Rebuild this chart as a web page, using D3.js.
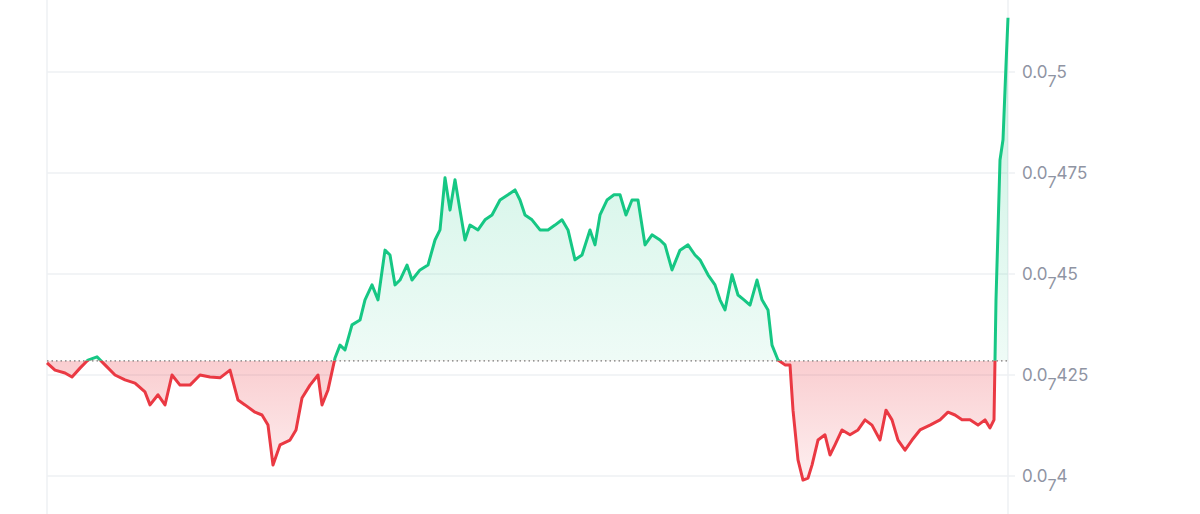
<!DOCTYPE html><html><head><meta charset="utf-8"><script src="https://cdn.jsdelivr.net/npm/d3@7"></script>
<style>body{margin:0;background:#fff}svg{display:block}</style></head><body><svg id="c" width="1200" height="514"></svg>
<script>
const times=[0,8,18,25,33,41,50,58,68,78,88,98,103,111,118,125,133,143,153,163,173,183,191,198,208,215,221,226,233,243,249,255,263,271,275,281,288,293,298,305,313,318,325,331,338,343,348,353,360,365,373,381,388,393,398,403,408,413,418,423,431,438,445,453,461,468,473,478,485,493,501,508,515,521,528,535,543,548,553,560,567,573,579,585,591,598,605,613,618,625,633,641,648,653,661,668,673,678,685,691,697,703,710,715,721,725,731,738,743,746,751,756,761,765,771,778,783,788,795,803,811,818,825,833,839,845,851,858,865,873,883,893,901,908,915,923,931,938,943,947,949,953,956,959,961];
const prices=[.4280,.4262,.4255,.4245,.4267,.4287,.4295,.4275,.4250,.4238,.4230,.4208,.4176,.4201,.4176,.4250,.4225,.4225,.4250,.4245,.4243,.4262,.4188,.4176,.4158,.4151,.4126,.4027,.4077,.4089,.4114,.4193,.4225,.4250,.4176,.4213,.4292,.4324,.4312,.4374,.4386,.4436,.4473,.4436,.4559,.4547,.4473,.4485,.4522,.4485,.4510,.4522,.4584,.4609,.4738,.4658,.4733,.4658,.4584,.4621,.4609,.4634,.4646,.4683,.4696,.4708,.4683,.4646,.4634,.4609,.4609,.4621,.4634,.4609,.4535,.4547,.4609,.4572,.4646,.4683,.4696,.4696,.4646,.4683,.4683,.4572,.4597,.4584,.4572,.4510,.4559,.4572,.4547,.4535,.4498,.4473,.4436,.4411,.4498,.4448,.4436,.4423,.4485,.4436,.4411,.4324,.4287,.4275,.4275,.4163,.4040,.3990,.3995,.4027,.4089,.4102,.4052,.4077,.4114,.4102,.4114,.4139,.4126,.4089,.4163,.4139,.4089,.4064,.4089,.4114,.4126,.4139,.4158,.4151,.4139,.4139,.4126,.4139,.4119,.4139,.4436,.4782,.4832,.5017,.5134];
const baseline=0.4285;
const tickVals=[0.4,0.425,0.45,0.475,0.5];
const tickDigits=["4","425","45","475","5"];
const data=times.map((t,i)=>({t,p:prices[i]}));
const svg=d3.select("#c");
const x=d3.scaleLinear().domain([0,961]).range([47,1008]);
const y=d3.scaleLinear().domain([0.3906,0.5178]).range([514,0]);
const defs=svg.append("defs");
const by=y(baseline);
defs.append("clipPath").attr("id","above").append("rect").attr("x",0).attr("y",0).attr("width",1200).attr("height",by);
defs.append("clipPath").attr("id","below").append("rect").attr("x",0).attr("y",by).attr("width",1200).attr("height",514-by);
const gg=defs.append("linearGradient").attr("id","gg").attr("x1",0).attr("x2",0).attr("y1",0).attr("y2",1).attr("gradientUnits","userSpaceOnUse").attr("y1",y(0.5)).attr("y2",by);
gg.append("stop").attr("offset",0).attr("stop-color","#16c784").attr("stop-opacity",0.22);
gg.append("stop").attr("offset",1).attr("stop-color","#16c784").attr("stop-opacity",0.07);
const rg=defs.append("linearGradient").attr("id","rg").attr("x1",0).attr("x2",0).attr("gradientUnits","userSpaceOnUse").attr("y1",by).attr("y2",y(0.399));
rg.append("stop").attr("offset",0).attr("stop-color","#ea3943").attr("stop-opacity",0.25);
rg.append("stop").attr("offset",1).attr("stop-color","#ea3943").attr("stop-opacity",0.08);
// grid
svg.append("g").selectAll("line").data(tickVals).join("line").attr("x1",47).attr("x2",1015).attr("y1",d=>y(d)).attr("y2",d=>y(d)).attr("stroke","#eef0f3").attr("stroke-width",1.5);
svg.append("line").attr("x1",47).attr("x2",47).attr("y1",0).attr("y2",514).attr("stroke","#eef0f3").attr("stroke-width",1.5);
svg.append("line").attr("x1",1008).attr("x2",1008).attr("y1",0).attr("y2",514).attr("stroke","#eef0f3").attr("stroke-width",1.5);
const area=d3.area().x(d=>x(d.t)).y0(by).y1(d=>y(d.p));
const line=d3.line().x(d=>x(d.t)).y(d=>y(d.p));
svg.append("path").datum(data).attr("d",area).attr("fill","url(#gg)").attr("clip-path","url(#above)");
svg.append("path").datum(data).attr("d",area).attr("fill","url(#rg)").attr("clip-path","url(#below)");
svg.append("line").attr("x1",47).attr("x2",1008).attr("y1",by).attr("y2",by).attr("stroke","#777").attr("stroke-width",1.2).attr("stroke-dasharray","1.5,3");
svg.append("path").datum(data).attr("d",line).attr("fill","none").attr("stroke","#16c784").attr("stroke-width",3).attr("stroke-linejoin","round").attr("clip-path","url(#above)");
svg.append("path").datum(data).attr("d",line).attr("fill","none").attr("stroke","#ea3943").attr("stroke-width",3).attr("stroke-linejoin","round").attr("clip-path","url(#below)");
const lab=svg.append("g").selectAll("text").data(tickVals).join("text").attr("x",1022).attr("y",d=>y(d)+6).attr("fill","#8f94a3").attr("font-family","Inter, 'Open Sans', sans-serif").attr("font-size",17);
lab.append("tspan").text("0.0");
lab.append("tspan").attr("dy",9).attr("font-size",16).text("7");
lab.append("tspan").attr("dy",-9).text((d,i)=>tickDigits[i]);
</script></body></html>
